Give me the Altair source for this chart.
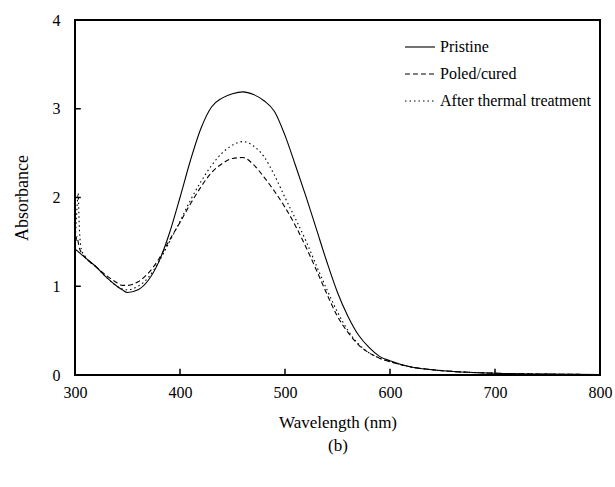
import altair as alt
import pandas as pd

FONT = "Liberation Serif"

wavelength = [300, 302, 303, 304, 306, 310, 320, 330, 340, 345, 350, 360, 370, 380, 390,
              400, 410, 420, 430, 440, 450, 460, 470, 480, 490, 500, 510, 520, 530,
              540, 550, 560, 570, 580, 590, 600, 620, 640, 660, 700, 750, 800]

pristine = [1.42, 1.40, 1.39, 1.38, 1.36, 1.32, 1.22, 1.10, 1.00, 0.96, 0.93, 0.96, 1.07, 1.28, 1.60,
            2.00, 2.42, 2.78, 3.02, 3.12, 3.17, 3.19, 3.16, 3.09, 2.97, 2.70, 2.36, 2.01, 1.64,
            1.27, 0.93, 0.66, 0.45, 0.31, 0.21, 0.16, 0.09, 0.06, 0.04, 0.02, 0.01, 0.005]

poled = [1.42, 1.56, 1.50, 1.44, 1.38, 1.32, 1.22, 1.12, 1.04, 1.01, 1.01, 1.05, 1.15, 1.31, 1.52,
         1.72, 1.93, 2.12, 2.28, 2.38, 2.44, 2.45, 2.37, 2.23, 2.07, 1.89, 1.68, 1.44, 1.18,
         0.91, 0.66, 0.48, 0.34, 0.25, 0.19, 0.15, 0.09, 0.06, 0.04, 0.02, 0.01, 0.005]

thermal = [1.45, 1.90, 2.05, 1.70, 1.42, 1.33, 1.22, 1.10, 1.00, 0.97, 0.96, 1.00, 1.10, 1.28, 1.50,
           1.73, 1.97, 2.18, 2.36, 2.50, 2.59, 2.63, 2.58, 2.46, 2.25, 2.00, 1.76, 1.51, 1.23,
           0.96, 0.71, 0.50, 0.35, 0.25, 0.19, 0.15, 0.09, 0.06, 0.04, 0.02, 0.01, 0.005]

series_names = ["Pristine", "Poled/cured", "After thermal treatment"]
series_values = [pristine, poled, thermal]
x_ticks = [400, 500, 600, 700]
y_ticks = [1, 2, 3]
x_range = [300, 800]
y_range = [0, 4]

dash_styles = [None, [5, 3], [1.5, 3]]

xscale = alt.Scale(domain=x_range, nice=False)
yscale = alt.Scale(domain=y_range, nice=False)

x_axis = alt.Axis(values=[300, 400, 500, 600, 700, 800], title=["Wavelength (nm)", "(b)"],
                  format="d", labelFlush=False, labelOverlap=False,
                  grid=False, ticks=False, domain=False,
                  labelFont=FONT, labelFontSize=16, labelPadding=9,
                  titleFont=FONT, titleFontSize=17, titleFontWeight="normal",
                  titlePadding=14, titleLineHeight=23, labelColor="black", titleColor="black")
y_axis = alt.Axis(values=[0, 1, 2, 3, 4], title="Absorbance", grid=False,
                  ticks=False, domain=False, format="d", labelFlush=False, labelOverlap=False,
                  labelFont=FONT, labelFontSize=16, labelPadding=15,
                  titleFont=FONT, titleFontSize=18, titleFontWeight="normal",
                  titlePadding=21, labelColor="black", titleColor="black")

layers = []
for i, (name, vals) in enumerate(zip(series_names, series_values)):
    d = pd.DataFrame({"wl": wavelength, "abs": vals})
    mark_kw = dict(color="black", strokeWidth=1.1, interpolate="monotone")
    if dash_styles[i] is not None:
        mark_kw["strokeDash"] = dash_styles[i]
    layers.append(alt.Chart(d).mark_line(**mark_kw).encode(
        x=alt.X("wl:Q", scale=xscale, axis=x_axis),
        y=alt.Y("abs:Q", scale=yscale, axis=y_axis)))

# inward tick marks
xt = pd.DataFrame({"x": x_ticks, "y0": [0] * len(x_ticks), "y1": [0.07] * len(x_ticks)})
layers.append(alt.Chart(xt).mark_rule(color="black", strokeWidth=1.5).encode(
    x=alt.X("x:Q", scale=xscale, axis=x_axis),
    y=alt.Y("y0:Q", scale=yscale, axis=y_axis), y2="y1:Q"))
yt = pd.DataFrame({"y": y_ticks, "x0": [300] * len(y_ticks), "x1": [305.5] * len(y_ticks)})
layers.append(alt.Chart(yt).mark_rule(color="black", strokeWidth=1.5).encode(
    y=alt.Y("y:Q", scale=yscale, axis=y_axis),
    x=alt.X("x0:Q", scale=xscale, axis=x_axis), x2="x1:Q"))

# frame
fh = pd.DataFrame({"y": y_range, "x0": [x_range[0]] * 2, "x1": [x_range[1]] * 2})
layers.append(alt.Chart(fh).mark_rule(color="black", strokeWidth=2).encode(
    y=alt.Y("y:Q", scale=yscale, axis=y_axis),
    x=alt.X("x0:Q", scale=xscale, axis=x_axis), x2="x1:Q"))
fv = pd.DataFrame({"x": x_range, "y0": [y_range[0]] * 2, "y1": [y_range[1]] * 2})
layers.append(alt.Chart(fv).mark_rule(color="black", strokeWidth=2).encode(
    x=alt.X("x:Q", scale=xscale, axis=x_axis),
    y=alt.Y("y0:Q", scale=yscale, axis=y_axis), y2="y1:Q"))

# legend (drawn inside the plot, top right)
for i, name in enumerate(series_names):
    ld = pd.DataFrame({"label": [name]})
    row_y = 27 + 27 * i
    rule_kw = dict(color="black", strokeWidth=1.1)
    if dash_styles[i] is not None:
        rule_kw["strokeDash"] = dash_styles[i]
    layers.append(alt.Chart(ld).mark_rule(**rule_kw).encode(
        x=alt.value(330), x2=alt.value(360), y=alt.value(row_y)))
    layers.append(alt.Chart(ld).mark_text(align="left", baseline="middle", font=FONT,
                                          fontSize=16, color="black").encode(
        x=alt.value(365), y=alt.value(row_y), text="label:N"))

chart = alt.layer(*layers).properties(
    width=525, height=355,
    background="white",
    autosize=alt.AutoSizeParams(type="none"),
    padding={"left": 75, "top": 20, "right": 15, "bottom": 112},
).configure_view(stroke="black", strokeWidth=2)

chart.save("out.html", embed_options={"renderer": "svg", "actions": False})
